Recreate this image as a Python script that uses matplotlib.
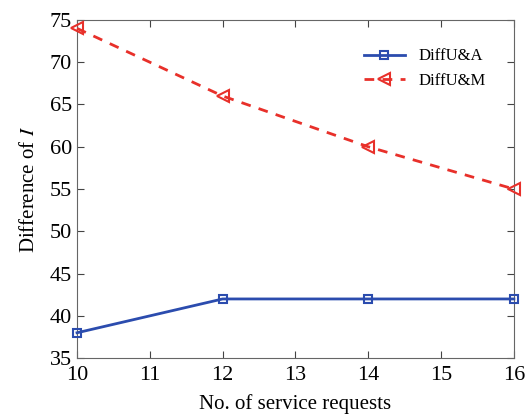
import matplotlib
matplotlib.use("Agg")
import matplotlib.pyplot as plt

# data
requests = [10, 12, 14, 16]
diff_ua = [38, 42, 42, 42]
diff_um = [74, 66, 60, 55]

plt.rcParams['font.family'] = ['Liberation Serif', 'DejaVu Serif']
plt.rcParams['mathtext.fontset'] = 'stix'

fig = plt.figure(figsize=(5.26, 4.15), dpi=100)
ax = fig.add_axes([0.1464, 0.137, 0.8306, 0.815])

ax.plot(requests, diff_ua, color='#2b4cae', lw=2, marker='s', ms=6,
        mfc='none', mew=1.5, label='DiffU&A', clip_on=False, zorder=3)
ax.plot(requests, diff_um, color='#e8302a', lw=2, ls=(0, (3.5, 3)), marker='<',
        ms=8, mfc='none', mew=1.5, label='DiffU&M', clip_on=False, zorder=3)

ax.set_xlim(10, 16)
ax.set_ylim(35, 75)
ax.set_xticks(range(10, 17))
ax.set_yticks(range(35, 80, 5))
ax.tick_params(direction='in', top=True, right=True, labelsize=16,
               length=5, color='#444444')
ax.tick_params(axis='x', pad=6)
for s in ax.spines.values():
    s.set_color('#666666')

ax.set_xlabel('No. of service requests', fontsize=15, labelpad=6)
ax.set_ylabel('Difference of $\\mathit{I}$', fontsize=15, labelpad=8)

ax.legend(loc='upper right', frameon=False, fontsize=12,
          bbox_to_anchor=(0.97, 0.96), handlelength=2.5)

fig.savefig('out.png', dpi=100)
